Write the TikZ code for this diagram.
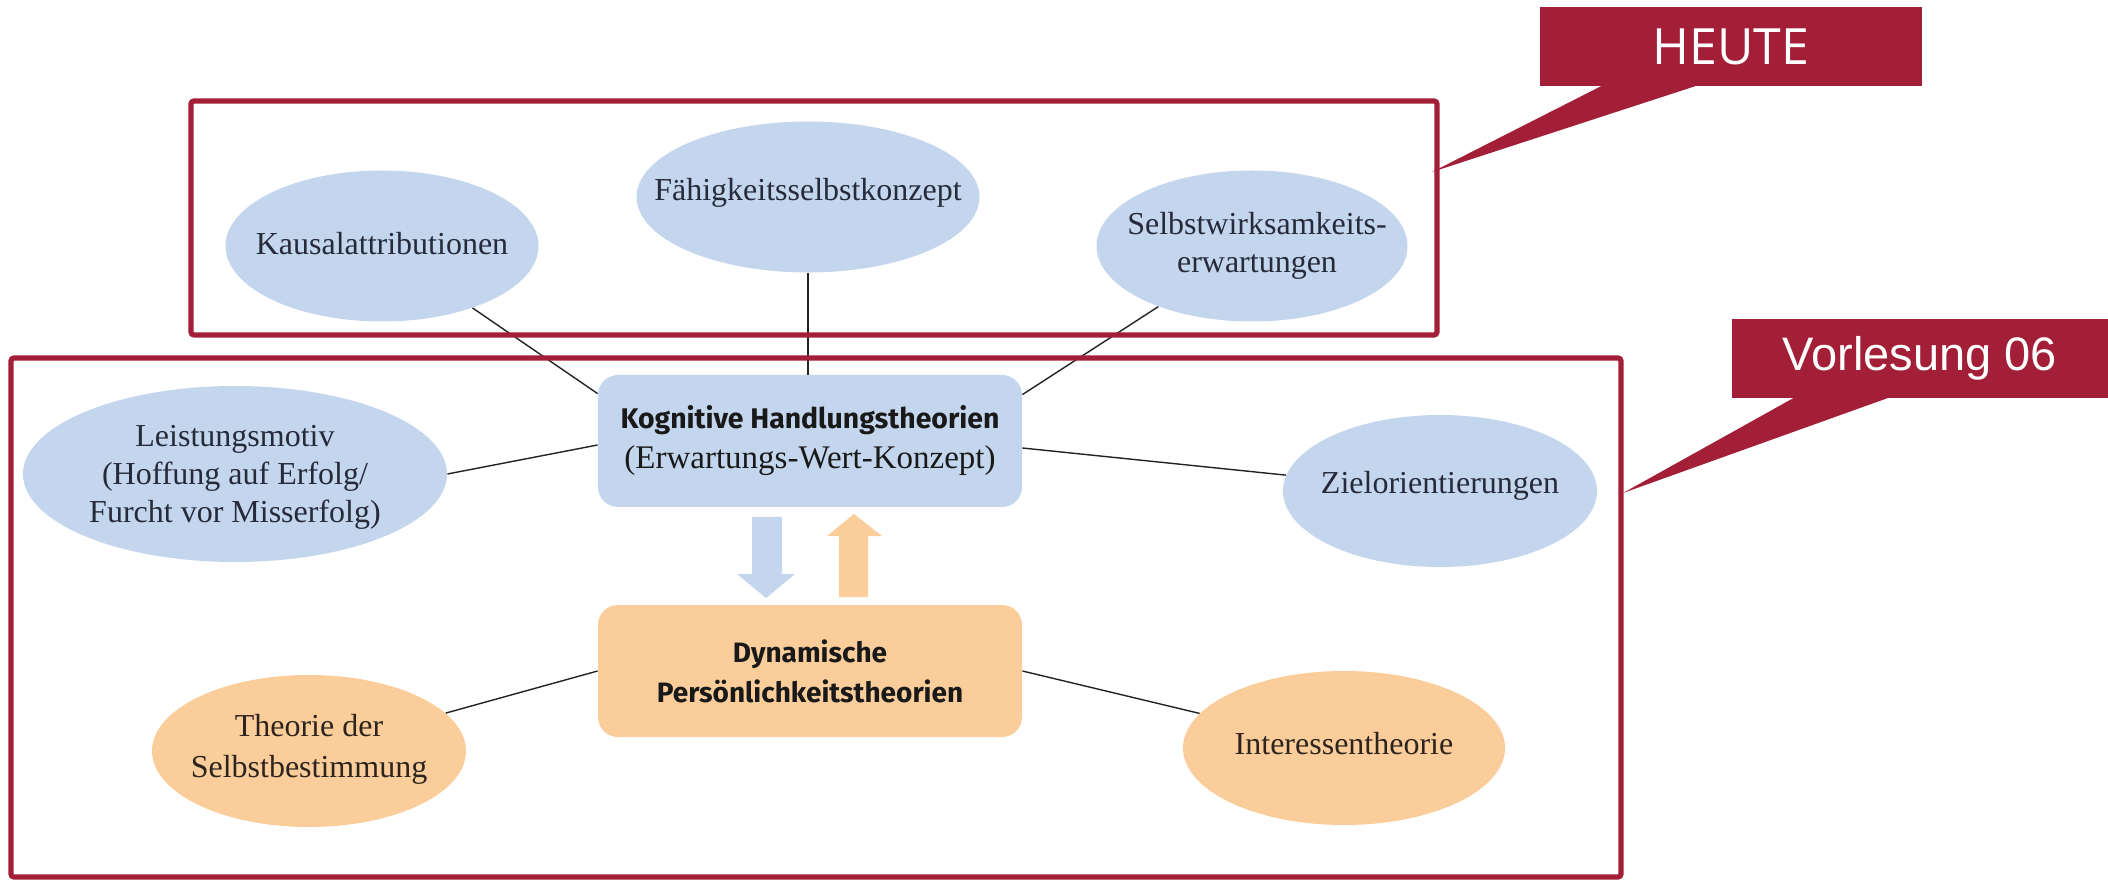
\documentclass[tikz,border=0pt]{standalone}
\usepackage{fontspec}
\setmainfont{Liberation Serif}
\newfontfamily\headsans{Fira Sans}
\newfontfamily\tagfont{Open Sans}
\newfontfamily\arialfont{Liberation Sans}
\usetikzlibrary{shapes.geometric,calc}

\definecolor{uniRed}{HTML}{A31F37}
\definecolor{topicBlue}{HTML}{C4D6ED}
\definecolor{topicOrange}{HTML}{FBCD9A}
\definecolor{inkBlue}{HTML}{262A3A}
\definecolor{inkBrown}{HTML}{2E241E}
\definecolor{linkGray}{HTML}{222222}

\begin{document}
\begin{tikzpicture}[x=0.5pt,y=-0.5pt,
  concept/.style={ellipse, draw=none, inner sep=0pt},
  bluec/.style={concept, fill=topicBlue},
  orangec/.style={concept, fill=topicOrange},
  ctext/.style={align=center, inner sep=0pt, font=\fontsize{16}{19}\selectfont},
  bluet/.style={ctext, text=inkBlue},
  oranget/.style={ctext, text=inkBrown},
  theorybox/.style={rectangle, rounded corners=10pt, draw=none, inner sep=0pt,
    minimum width=212pt, minimum height=66pt, align=center, text=black!90,
    font=\fontsize{16.5}{19}\selectfont},
  link/.style={draw=linkGray, line width=0.7pt},
  redframe/.style={draw=uniRed, line width=2.6pt, rounded corners=1.5pt},
  tagbox/.style={rectangle, fill=uniRed, text=white, inner sep=0pt,
    minimum height=39.5pt}
]
\useasboundingbox (0,0) rectangle (2108,881);

% central theory boxes
\node[theorybox, fill=topicBlue] (kog) at (810,441)
  {{\headsans\bfseries\fontsize{14.2}{19}\selectfont Kognitive Handlungstheorien}\\[1pt]
   (Erwartungs-Wert-Konzept)};
\node[theorybox, fill=topicOrange, font=\headsans\bfseries\fontsize{14}{20}\selectfont] (dyn) at (810,671)
  {Dynamische\\Persönlichkeitstheorien};

% surrounding concepts: ellipse shapes
\node[bluec, minimum width=156.5pt, minimum height=75.5pt] (kaus) at (382,246) {};
\node[bluec, minimum width=171.5pt, minimum height=75.5pt] (fah) at (808,197) {};
\node[bluec, minimum width=155.5pt, minimum height=75.5pt] (selb) at (1252,246) {};
\node[bluec, minimum width=212pt, minimum height=88pt] (leist) at (235,474) {};
\node[bluec, minimum width=157pt, minimum height=76pt] (ziel) at (1440,491) {};
\node[orangec, minimum width=157pt, minimum height=76pt] (theo) at (309,751) {};
\node[orangec, minimum width=161pt, minimum height=77pt] (inter) at (1344,748) {};

% their labels
\node[bluet] (kaus-t) at (382,244) {Kausalattributionen};
\node[bluet] (fah-t) at (808,193) {Fähigkeitsselbstkonzept};
\node[bluet] (selb-t) at (1257,246) {Selbstwirksamkeits-\\erwartungen};
\node[bluet] (leist-t) at (235,477) {Leistungsmotiv\\(Hoffung auf Erfolg/\\Furcht vor Misserfolg)};
\node[bluet] (ziel-t) at (1440,486) {Zielorientierungen};
\node[oranget, font=\fontsize{16}{20.5}\selectfont] (theo-t) at (309,749) {Theorie der\\Selbstbestimmung};
\node[oranget] (inter-t) at (1344,744) {Interessentheorie};

% connectors
\draw[link] ($(kog.north west)+(0,19)$) -- (kaus);
\draw[link] (fah.south) -- (fah.south |- kog.north);
\draw[link] ($(kog.north east)+(0,20)$) -- (selb);
\draw[link] ($(kog.west)+(0,4)$) -- (leist.east);
\draw[link] ($(kog.east)+(0,7)$) -- (ziel);
\draw[link] (dyn.west) -- (theo);
\draw[link] (dyn.east) -- (inter);

% block arrows between the two theory boxes
\fill[topicBlue] (752,517) -- (782,517) -- (782,574) -- (795,574) -- (766,598)
  -- (737,574) -- (752,574) -- cycle;
\fill[topicOrange] (839,597) -- (868,597) -- (868,536) -- (882,536) -- (854,514)
  -- (827,536) -- (839,536) -- cycle;

% frames
\draw[redframe] (191,101) rectangle (1437,335);
\draw[redframe] (11,358) rectangle (1621,877);

% callouts
\node[tagbox, minimum width=191pt, font=\tagfont\fontsize{25}{30}\selectfont] (heute) at (1731,46.5) {HEUTE};
\coordinate (heutetip) at (1432,172);
\fill[uniRed] ($(heute.south west)+(63,-1)$) -- (heutetip) -- ($(heute.south west)+(158,-1)$) -- cycle;

\node[tagbox, minimum width=188pt, font=\arialfont\fontsize{23.5}{28}\selectfont] (vorl) at (1920,358.5) {Vorlesung 06};
\coordinate (vorltip) at (1623,493);
\fill[uniRed] ($(vorl.south west)+(63,-1)$) -- (vorltip) -- ($(vorl.south west)+(158,-1)$) -- cycle;
\end{tikzpicture}
\end{document}
